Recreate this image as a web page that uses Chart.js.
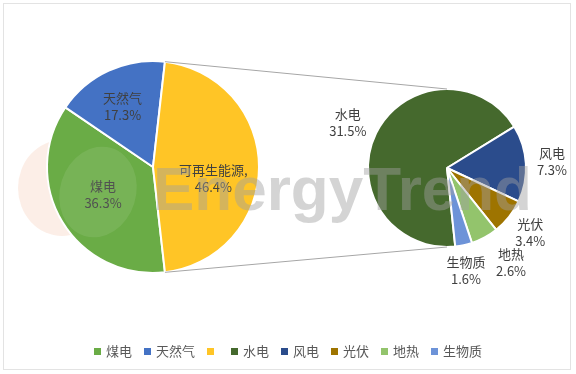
<!DOCTYPE html>
<html><head><meta charset="utf-8">
<script src="https://cdn.jsdelivr.net/npm/chart.js@4"></script>
<style>
html,body{margin:0;padding:0;background:#fff}
#wrap{position:relative;width:576px;height:374px;background:#fff;overflow:hidden;font-family:"Noto Sans CJK SC",sans-serif}
#frame{position:absolute;left:3px;top:3px;width:568px;height:367px;border:1px solid #e3e3e3;box-sizing:border-box}
canvas{position:absolute}
#legend{position:absolute;left:0;top:342px;width:576px;height:18px;display:flex;justify-content:center;align-items:center;font-size:13px;color:#595959;line-height:18px}
.item{display:flex;align-items:center;margin:0 6px}
.sw{width:7px;height:7px;margin-right:5px;flex:none}
</style></head>
<body>
<div id="wrap">
  <div id="frame"></div>
  <canvas id="left" width="300" height="330" style="left:0;top:0"></canvas>
  <canvas id="right" width="276" height="330" style="left:300px;top:0"></canvas>
  <canvas id="overlay" width="576" height="374" style="left:0;top:0;pointer-events:none"></canvas>
  <div id="legend"></div>
</div>
<script>
// ---- data ----
const mainCategories = ['煤电', '天然气', '可再生能源'];
const mainValues = [36.3, 17.3, 46.4];
const subCategories = ['水电', '风电', '光伏', '地热', '生物质'];
const subValues = [31.5, 7.3, 3.4, 2.6, 1.6];
const legendLabels = ['煤电', '天然气', '', '水电', '风电', '光伏', '地热', '生物质'];

// ---- styles ----
const mainColors = ['#6aac46', '#4472c4', '#ffc526'];
const subColors = ['#45692d', '#2b4c8c', '#9e7400', '#93c46c', '#6d93d8'];
const legendColors = mainColors.concat(subColors);

const fmt = v => v.toFixed(1) + '%';

const labelPlugin = {
  id: 'sliceLabels',
  afterDatasetsDraw(chart, args, opts) {
    const meta = chart.getDatasetMeta(0);
    const ctx = chart.ctx;
    ctx.save();
    ctx.font = '13px "Noto Sans CJK SC"';
    ctx.fillStyle = '#404040';
    ctx.textAlign = 'center';
    ctx.textBaseline = 'middle';
    meta.data.forEach((arc, i) => {
      const p = opts.place[i];
      const mid = (arc.startAngle + arc.endAngle) / 2 + p.da * Math.PI / 180;
      const d = arc.outerRadius * p.f;
      const x = arc.x + Math.cos(mid) * d;
      const y = arc.y + Math.sin(mid) * d;
      const lines = opts.text(i);
      lines.forEach((t, k) => ctx.fillText(t, x, y + (k - (lines.length - 1) / 2) * 17));
    });
    ctx.restore();
  }
};

const renewShare = mainValues[2] / mainValues.reduce((a, b) => a + b, 0);

const leftChart = new Chart(document.getElementById('left'), {
  type: 'pie',
  data: { labels: mainCategories, datasets: [{ data: mainValues, backgroundColor: mainColors, borderColor: '#ffffff', borderWidth: 2 }] },
  options: {
    responsive: false, animation: false,
    rotation: 90 + renewShare * 180,
    layout: { padding: { left: 46, top: 60, right: 40, bottom: 56 } },
    plugins: {
      legend: { display: false }, tooltip: { enabled: false },
      sliceLabels: {
        place: [{ f: 0.54, da: 2 }, { f: 0.64, da: -2 }, { f: 0.58, da: 11 }],
        text: i => [mainCategories[i] + (i === 2 ? ',' : ''), fmt(mainValues[i])]
      }
    }
  },
  plugins: [labelPlugin]
});

const rightChart = new Chart(document.getElementById('right'), {
  type: 'pie',
  data: { labels: subCategories, datasets: [{ data: subValues, backgroundColor: subColors, borderColor: '#ffffff', borderWidth: 2 }] },
  options: {
    responsive: false, animation: false,
    rotation: 174,
    layout: { padding: { left: 67, top: 88, right: 49, bottom: 82 } },
    plugins: {
      legend: { display: false }, tooltip: { enabled: false },
      sliceLabels: {
        place: [{ f: 1.38, da: -1.7 }, { f: 1.33, da: 0 }, { f: 1.33, da: -0.6 }, { f: 1.45, da: -5.5 }, { f: 1.32, da: 1.7 }],
        text: i => [subCategories[i], fmt(subValues[i])]
      }
    }
  },
  plugins: [labelPlugin]
});

// ---- overlay: connectors + watermark ----
(function () {
  const ctx = document.getElementById('overlay').getContext('2d');
  const la = leftChart.getDatasetMeta(0).data[2];
  const ra = rightChart.getDatasetMeta(0).data[0];
  const rx = ra.x + 300, ry = ra.y, rr = ra.outerRadius;
  const lr = la.outerRadius;
  const p1 = [la.x + Math.cos(la.startAngle) * lr, la.y + Math.sin(la.startAngle) * lr];
  const p2 = [la.x + Math.cos(la.endAngle) * lr, la.y + Math.sin(la.endAngle) * lr];
  ctx.strokeStyle = '#a6a6a6';
  ctx.lineWidth = 1;
  ctx.beginPath();
  ctx.moveTo(p1[0], p1[1]); ctx.lineTo(rx, ry - rr);
  ctx.moveTo(p2[0], p2[1]); ctx.lineTo(rx, ry + rr);
  ctx.stroke();

  // faint logo
  ctx.save();
  ctx.beginPath();
  ctx.rect(0, 0, 576, 374);
  ctx.arc(la.x, la.y, lr + 1, 0, Math.PI * 2, true);
  ctx.clip('evenodd');
  ctx.fillStyle = 'rgba(240,160,120,0.18)';
  ctx.beginPath();
  ctx.ellipse(62, 188, 44, 48, 0, 0, Math.PI * 2);
  ctx.fill();
  ctx.restore();
  ctx.fillStyle = 'rgba(255,255,255,0.09)';
  ctx.beginPath();
  ctx.ellipse(98, 192, 38, 46, 0.3, 0, Math.PI * 2);
  ctx.fill();

  ctx.font = 'bold 62px "Liberation Sans"';
  ctx.fillStyle = 'rgba(160,160,160,0.45)';
  ctx.textBaseline = 'alphabetic';
  ctx.fillText('EnergyTrend', 153, 210);
})();

// ---- legend ----
const lg = document.getElementById('legend');
legendLabels.forEach((t, i) => {
  const it = document.createElement('div');
  it.className = 'item';
  const sw = document.createElement('span');
  sw.className = 'sw';
  sw.style.background = legendColors[i];
  it.appendChild(sw);
  const tx = document.createElement('span');
  tx.textContent = t;
  it.appendChild(tx);
  lg.appendChild(it);
});
</script>
</body></html>
